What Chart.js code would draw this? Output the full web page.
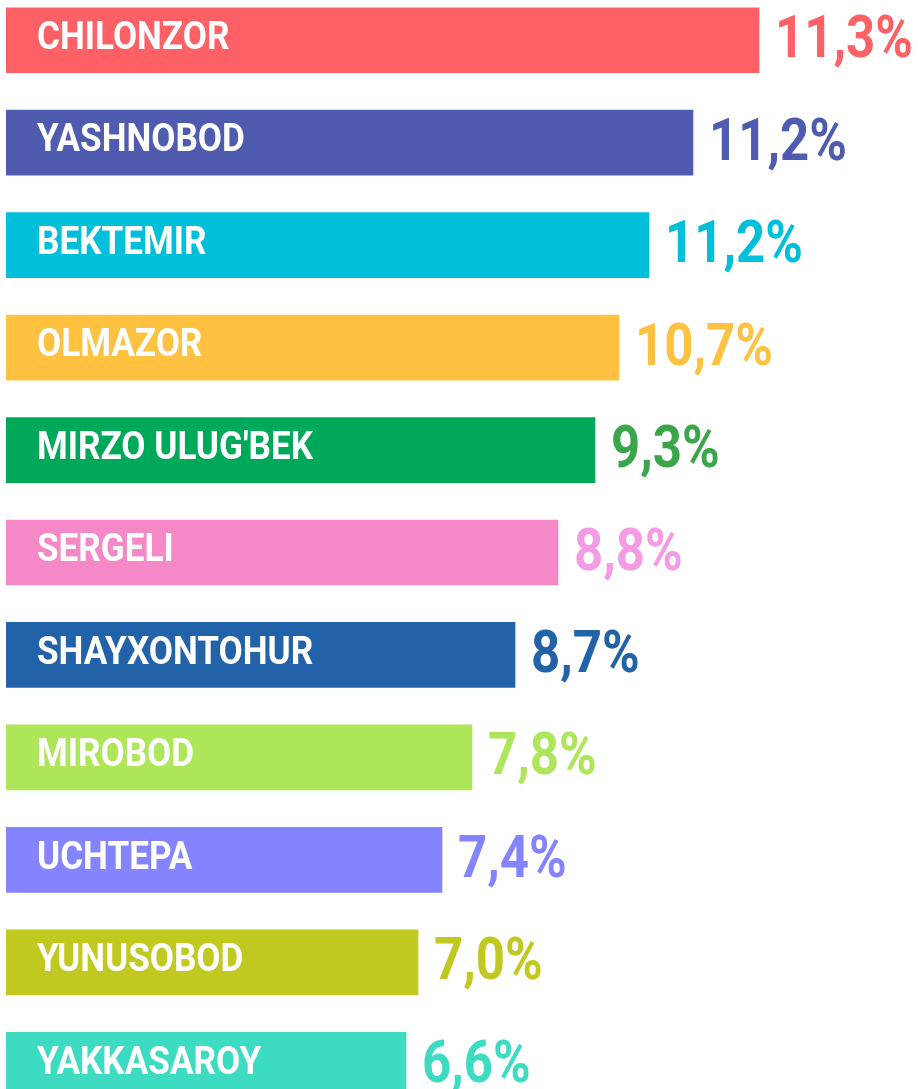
<!DOCTYPE html>
<html>
<head>
    <style>
        body {
            margin: 0;
            padding: 0;
            background: #fff;
            overflow: hidden;
        }

        .wrap {
            position: relative;
            width: 918px;
            height: 1089px;
            overflow: hidden;
        }

        #chart {
            position: absolute;
            left: 0;
            top: -11px;
        }
    </style>
    <title>Tumanlar</title>
    <script src="https://cdn.jsdelivr.net/npm/chart.js@4.4.0/dist/chart.umd.min.js"></script>
</head>
<body>
    <div class="wrap">
        <canvas id="chart" width="918" height="1127"></canvas>
    </div>

  <script>
    const districts = ['CHILONZOR', 'YASHNOBOD', 'BEKTEMIR', 'OLMAZOR', "MIRZO ULUG'BEK", 'SERGELI',
      'SHAYXONTOHUR', 'MIROBOD', 'UCHTEPA', 'YUNUSOBOD', 'YAKKASAROY'];
    const shares = [11.3, 11.2, 11.2, 10.7, 9.3, 8.8, 8.7, 7.8, 7.4, 7.0, 6.6];
    // bar lengths as drawn in the picture (they are not proportional to the shares)
    const barLengths = [753, 687, 643, 613, 589, 552, 509, 466, 436, 412, 400];
    const barColors = ['#fd6166', '#4f5baf', '#00bfdb', '#ffc140', '#00a85a', '#f589c8',
      '#2262a8', '#aee65a', '#8584ff', '#c1c920', '#3ddcc2'];
    const valueColors = ['#fd6166', '#4f5baf', '#00bfdb', '#ffc140', '#3aa54a', '#f59ae4',
      '#2262a8', '#aee65a', '#8584ff', '#c1c920', '#3ddcc2'];

    function fmt(v) {
      return v.toFixed(1).replace('.', ',') + '%';
    }

    // draws condensed text by squeezing Roboto horizontally
    function condensedText(ctx, text, x, y, size, color, squeeze) {
      ctx.save();
      ctx.font = 'bold ' + size + 'px Roboto';
      ctx.fillStyle = color;
      ctx.textBaseline = 'middle';
      ctx.textAlign = 'left';
      ctx.translate(x, y);
      ctx.scale(squeeze, 1);
      ctx.fillText(text, 0, 0);
      ctx.restore();
    }

    const labelPlugin = {
      id: 'barLabels',
      afterDatasetsDraw(chart) {
        const ctx = chart.ctx;
        const meta = chart.getDatasetMeta(0);
        meta.data.forEach((bar, i) => {
          condensedText(ctx, districts[i], bar.base + 31, bar.y - 1, 39, '#ffffff', 0.9);
          condensedText(ctx, fmt(shares[i]), bar.x + 16, bar.y + 2, 60, valueColors[i], 0.85);
        });
      }
    };

    const ctx = document.getElementById('chart').getContext('2d');
    new Chart(ctx, {
      type: 'bar',
      data: {
        labels: districts,
        datasets: [{
          data: barLengths,
          backgroundColor: barColors,
          borderWidth: 0,
          barThickness: 65
        }]
      },
      options: {
        indexAxis: 'y',
        responsive: false,
        animation: false,
        layout: { padding: { left: 6, right: 0, top: 0, bottom: 0 } },
        plugins: {
          legend: { display: false },
          tooltip: { enabled: false }
        },
        scales: {
          x: { display: false, min: 0, max: 912 },
          y: { display: false }
        }
      },
      plugins: [labelPlugin]
    });
  </script>
</body>
</html>
